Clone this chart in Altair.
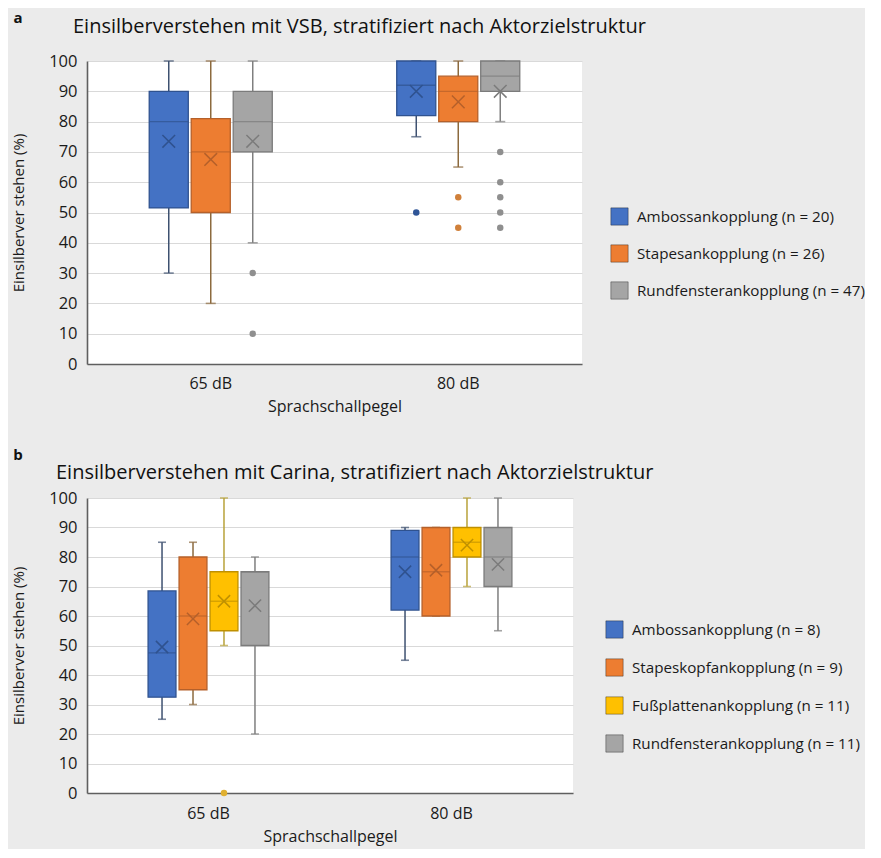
import altair as alt
import pandas as pd

FONT = "Open Sans"
levels = ["65 dB", "80 dB"]

# ---------------- panel a (VSB) ----------------
title_a = "Einsilberverstehen mit VSB, stratifiziert nach Aktorzielstruktur"
groups_a = ["Ambossankopplung (n = 20)", "Stapesankopplung (n = 26)",
            "Rundfensterankopplung (n = 47)"]
# order: 65 dB (each group), then 80 dB (each group)
a_low = [30, 20, 40, 75, 65, 80]
a_q1 = [51.5, 50, 70, 82, 80, 90]
a_median = [80, 70, 80, 92, 90, 95]
a_q3 = [90, 81, 90, 100, 95, 100]
a_high = [100, 100, 100, 100, 100, 100]
a_mean = [73.5, 67.5, 73.5, 90, 86.5, 90]
a_out_level = ["65 dB", "65 dB", "80 dB", "80 dB", "80 dB",
               "80 dB", "80 dB", "80 dB", "80 dB", "80 dB"]
a_out_group = [2, 2, 0, 1, 1, 2, 2, 2, 2, 2]
a_out_value = [30, 10, 50, 55, 45, 70, 60, 55, 50, 45]

# ---------------- panel b (Carina) ----------------
title_b = "Einsilberverstehen mit Carina, stratifiziert nach Aktorzielstruktur"
groups_b = ["Ambossankopplung (n = 8)", "Stapeskopfankopplung (n = 9)",
            "Fußplattenankopplung (n = 11)", "Rundfensterankopplung (n = 11)"]
b_low = [25, 30, 50, 20, 45, 60, 70, 55]
b_q1 = [32.5, 35, 55, 50, 62, 60, 80, 70]
b_median = [47.5, 60, 65, 75, 80, 75, 85, 80]
b_q3 = [68.5, 80, 75, 75, 89, 90, 90, 90]
b_high = [85, 85, 100, 80, 90, 90, 100, 100]
b_mean = [49.5, 59, 65, 63.5, 75, 75.5, 84, 77.5]
b_out_level = ["65 dB"]
b_out_group = [2]
b_out_value = [0]

# colours (fill, edge, whisker, outlier) per actuator group
C_AMB = ("#4472C4", "#2F528F", "#3E5170", "#2F5597")
C_STA = ("#ED7D31", "#B5602A", "#8C6A3E", "#D0803A")
C_RUN = ("#A5A5A5", "#7B7B7B", "#7F7F7F", "#8F8F8F")
C_FUS = ("#FFC000", "#BF9000", "#B8A23A", "#E0B030")
pal_a = [C_AMB, C_STA, C_RUN]
pal_b = [C_AMB, C_STA, C_FUS, C_RUN]


def frames(groups, pal, low, q1, med, q3, high, mean, o_lv, o_g, o_v):
    rows, caps = [], []
    i = 0
    for lv in levels:
        for gi, g in enumerate(groups):
            rows.append(dict(level=lv, group=g, low=low[i], q1=q1[i], median=med[i],
                             q3=q3[i], high=high[i], mean=mean[i],
                             edge=pal[gi][1], whisk=pal[gi][2]))
            caps.append(dict(level=lv, group=g, v=low[i], whisk=pal[gi][2]))
            caps.append(dict(level=lv, group=g, v=high[i], whisk=pal[gi][2]))
            i += 1
    outs = [dict(level=l, group=groups[g], v=v, dot=pal[g][3])
            for l, g, v in zip(o_lv, o_g, o_v)]
    return pd.DataFrame(rows), pd.DataFrame(caps), pd.DataFrame(outs)


def panel(letter, title, groups, pal, data, width, height, x_pi, off_pi,
          box_w, cap_w, mean_size, legend_x, legend_y, row_pad, title_x, title_y,
          letter_y, lab_pad, tit_pad):
    df, caps, outs = data
    x = alt.X("level:N", sort=levels,
              scale=alt.Scale(domain=levels, paddingInner=x_pi, paddingOuter=x_pi / 2),
              axis=alt.Axis(title="Sprachschallpegel", labelAngle=0, ticks=False,
                            labelPadding=lab_pad, titlePadding=tit_pad,
                            labelFontSize=16, titleFontSize=16, labelFont=FONT,
                            titleFont=FONT, titleFontWeight="normal",
                            labelColor="#1a1a1a", titleColor="#1a1a1a",
                            domainColor="#5f5f5f", domainWidth=1.6))
    xo = alt.XOffset("group:N", sort=groups,
                     scale=alt.Scale(domain=groups, paddingInner=off_pi,
                                     paddingOuter=off_pi / 2))
    yax = alt.Axis(title="Einsilberver stehen (%)", values=list(range(0, 101, 10)),
                   ticks=False, labelPadding=10, titlePadding=22,
                   labelFontSize=16.5, titleFontSize=15, labelFont=FONT,
                   titleFont=FONT, titleFontWeight="normal",
                   labelColor="#1a1a1a", titleColor="#1a1a1a",
                   domainColor="#5f5f5f", domainWidth=1.6,
                   gridColor="#d9d9d9", gridWidth=1)
    yscale = alt.Scale(domain=[0, 100], nice=False)

    whisker = alt.Chart(df).mark_rule(strokeWidth=1.5).encode(
        x=x, xOffset=xo,
        y=alt.Y("low:Q", scale=yscale, axis=yax), y2="high:Q",
        stroke=alt.Stroke("whisk:N", scale=None))
    cap = alt.Chart(caps).mark_tick(thickness=1.6, size=cap_w).encode(
        x=x, xOffset=xo, y=alt.Y("v:Q", scale=yscale, axis=yax),
        fill=alt.Fill("whisk:N", scale=None))
    box = alt.Chart(df).mark_bar(strokeWidth=1.3).encode(
        x=x, xOffset=xo,
        y=alt.Y("q1:Q", scale=yscale, axis=yax), y2="q3:Q",
        color=alt.Color("group:N", sort=groups,
                        scale=alt.Scale(domain=groups, range=[p[0] for p in pal]),
                        legend=alt.Legend(title=None, orient="none",
                                          legendX=legend_x, legendY=legend_y,
                                          symbolType="square", symbolSize=300,
                                          symbolStrokeColor="rgba(0,0,0,0.35)",
                                          symbolStrokeWidth=1,
                                          labelFontSize=15.2, labelFont=FONT,
                                          labelColor="#1a1a1a", labelOffset=8,
                                          rowPadding=row_pad, padding=0,
                                          labelLimit=400)),
        stroke=alt.Stroke("edge:N", scale=None))
    median = alt.Chart(df).mark_tick(thickness=1.3, size=box_w).encode(
        x=x, xOffset=xo, y=alt.Y("median:Q", scale=yscale, axis=yax),
        fill=alt.Fill("edge:N", scale=None))
    mean = alt.Chart(df).mark_point(shape="M-1,-1L1,1M1,-1L-1,1", size=mean_size,
                                    strokeWidth=1.5, filled=False, opacity=1).encode(
        x=x, xOffset=xo, y=alt.Y("mean:Q", scale=yscale, axis=yax),
        stroke=alt.Stroke("edge:N", scale=None))
    out = alt.Chart(outs).mark_circle(size=42, opacity=1).encode(
        x=x, xOffset=xo, y=alt.Y("v:Q", scale=yscale, axis=yax),
        fill=alt.Fill("dot:N", scale=None))
    lab = alt.Chart(pd.DataFrame({"t": [letter]})).mark_text(
        font=FONT, fontSize=15, fontWeight="bold", align="center",
        baseline="middle", color="#111").encode(
        text="t:N", x=alt.value(-69), y=alt.value(letter_y))
    ttl = alt.Chart(pd.DataFrame({"t": [title]})).mark_text(
        font=FONT, fontSize=20, fontWeight=500, align="left",
        baseline="middle", color="#111").encode(
        text="t:N", x=alt.value(title_x), y=alt.value(title_y))
    return alt.layer(whisker, cap, box, median, mean, out, lab, ttl).properties(
        width=width, height=height)


pa = panel("a", title_a, groups_a, pal_a,
           frames(groups_a, pal_a, a_low, a_q1, a_median, a_q3, a_high, a_mean,
                  a_out_level, a_out_group, a_out_value),
           width=495, height=303, x_pi=0.491, off_pi=0.07, box_w=39, cap_w=10,
           mean_size=160, legend_x=523, legend_y=146, row_pad=14,
           title_x=-14, title_y=-34, letter_y=-43, lab_pad=11, tit_pad=7)
pb = panel("b", title_b, groups_b, pal_b,
           frames(groups_b, pal_b, b_low, b_q1, b_median, b_q3, b_high, b_mean,
                  b_out_level, b_out_group, b_out_value),
           width=486, height=295, x_pi=0.49, off_pi=0.1, box_w=28, cap_w=8,
           mean_size=150, legend_x=518, legend_y=122, row_pad=15,
           title_x=-31, title_y=-25, letter_y=-43, lab_pad=12, tit_pad=7)

chart = alt.vconcat(pa, pb, spacing=34).resolve_scale(
    color="independent", x="independent", y="independent",
    xOffset="independent").resolve_legend(color="independent").properties(
    padding={"left": 3, "top": 3, "right": 0, "bottom": 5}
).configure(background="#ebebeb").configure_view(fill="white", stroke=None)

chart.save("out.html", embed_options={"renderer": "svg", "actions": False})
